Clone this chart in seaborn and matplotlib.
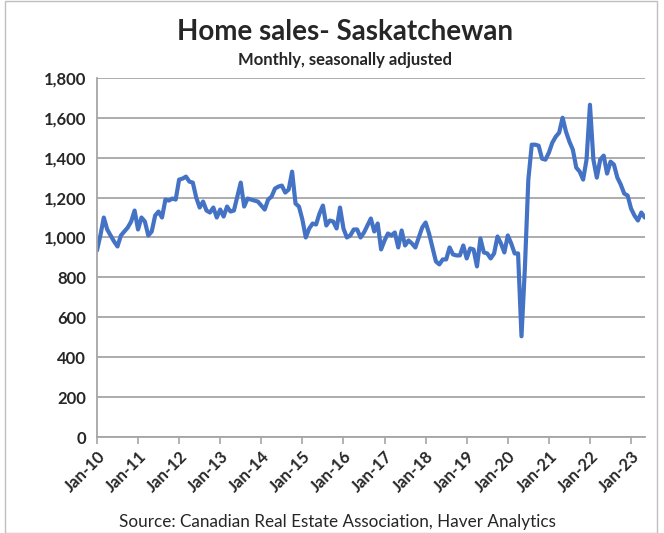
import pandas as pd
import numpy as np
import matplotlib.pyplot as plt
import matplotlib.ticker as mticker
from matplotlib.patches import Rectangle
import seaborn as sns

# monthly home sales, Jan 2010 - May 2023
sales_2010 = [935, 1010, 1100, 1040, 1010, 980, 955, 1010, 1030, 1050, 1080, 1135]
sales_2011 = [1040, 1100, 1080, 1010, 1030, 1110, 1130, 1100, 1190, 1185, 1195, 1190]
sales_2012 = [1290, 1295, 1305, 1280, 1275, 1200, 1150, 1180, 1135, 1125, 1150, 1100]
sales_2013 = [1140, 1105, 1155, 1130, 1135, 1205, 1275, 1155, 1195, 1190, 1185, 1180]
sales_2014 = [1160, 1140, 1190, 1205, 1245, 1255, 1260, 1225, 1240, 1330, 1170, 1155]
sales_2015 = [1090, 1000, 1045, 1070, 1065, 1120, 1160, 1060, 1085, 1080, 1045, 1150]
sales_2016 = [1045, 1000, 1010, 1040, 1040, 1000, 1025, 1060, 1095, 1030, 1070, 940]
sales_2017 = [985, 1020, 1010, 1025, 950, 1035, 960, 985, 970, 950, 1000, 1050]
sales_2018 = [1075, 1020, 950, 880, 865, 890, 890, 950, 915, 910, 910, 960]
sales_2019 = [895, 945, 940, 855, 995, 925, 920, 895, 920, 1005, 970, 925]
sales_2020 = [1010, 970, 920, 920, 505, 850, 1290, 1465, 1465, 1460, 1395, 1390]
sales_2021 = [1425, 1475, 1505, 1525, 1600, 1530, 1480, 1440, 1350, 1330, 1290, 1390]
sales_2022 = [1665, 1390, 1300, 1390, 1410, 1320, 1380, 1365, 1300, 1265, 1220, 1210]
sales_2023 = [1145, 1110, 1085, 1125, 1100]

sales = (sales_2010 + sales_2011 + sales_2012 + sales_2013 + sales_2014 + sales_2015
         + sales_2016 + sales_2017 + sales_2018 + sales_2019 + sales_2020 + sales_2021
         + sales_2022 + sales_2023)
month_idx = np.arange(len(sales))  # months since Jan 2010
df = pd.DataFrame({'month': month_idx, 'sales': sales})

tick_labels = ['Jan-10', 'Jan-11', 'Jan-12', 'Jan-13', 'Jan-14', 'Jan-15', 'Jan-16',
               'Jan-17', 'Jan-18', 'Jan-19', 'Jan-20', 'Jan-21', 'Jan-22', 'Jan-23']

sns.set_style('white')
plt.rcParams['font.family'] = ['Lato', 'DejaVu Sans']

fig = plt.figure(figsize=(6.64, 5.33), dpi=100)
ax = fig.add_axes([0.146, 0.180, 0.825, 0.674])

sns.lineplot(data=df, x='month', y='sales', ax=ax, color='#4472C4', linewidth=3)

ax.set_ylim(0, 1800)
ax.set_xlim(0, len(sales) - 1)

ax.grid(axis='y', color='#A6A6A6', linewidth=1.3)
ax.set_axisbelow(True)
for s in ['top', 'right']:
    ax.spines[s].set_visible(False)
for s in ['left', 'bottom']:
    ax.spines[s].set_color('#A6A6A6')
    ax.spines[s].set_linewidth(1.3)

ax.tick_params(axis='x', direction='out', length=5, color='#A6A6A6', width=1.2,
               bottom=True, pad=3, labelsize=12, labelrotation=45)
ax.tick_params(axis='y', length=0, pad=8, labelsize=12)

ax.yaxis.set_major_locator(mticker.MultipleLocator(200))
ax.yaxis.set_major_formatter(mticker.FuncFormatter(lambda v, p: f'{int(v):,}'))
ax.set_xticks(np.arange(0, 157, 12))
ax.set_xticklabels(tick_labels)
ax.set_xlabel('')
ax.set_ylabel('')

plt.setp(ax.get_xticklabels(), ha='right', rotation_mode='anchor', fontweight='bold')
plt.setp(ax.get_yticklabels(), fontweight='bold')

fig.text(0.52, 0.94, 'Home sales- Saskatchewan', ha='center', va='center',
         fontsize=20, fontweight='bold')
fig.text(0.52, 0.887, 'Monthly, seasonally adjusted', ha='center', va='center',
         fontsize=12, fontweight='bold')
fig.text(0.508, 0.02, 'Source: Canadian Real Estate Association, Haver Analytics',
         ha='center', va='center', fontsize=12.3)

fig.patches.append(Rectangle((0.008, 0.0), 0.982, 0.999, transform=fig.transFigure,
                             fill=False, edgecolor='#BFBFBF', linewidth=1))

fig.savefig('out.png', dpi=100)
